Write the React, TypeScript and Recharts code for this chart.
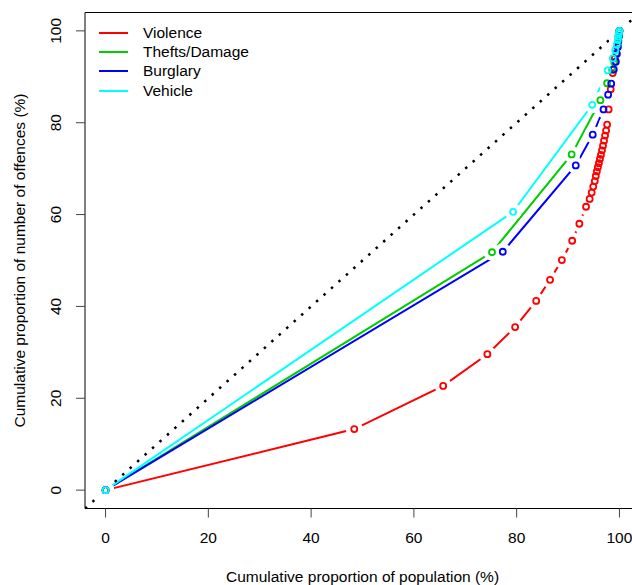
import React from 'react';
import { LineChart, Line, XAxis, YAxis, ReferenceArea, Label } from 'recharts';

const FONT = '"Liberation Sans", Arial, sans-serif';

const xTicks = [0, 20, 40, 60, 80, 100];
const yTicks = [0, 20, 40, 60, 80, 100];

// cumulative % of population / cumulative % of offences
const violence = [
  { x: 0, y: 0 }, { x: 48.4, y: 13.3 }, { x: 65.7, y: 22.7 }, { x: 74.3, y: 29.6 },
  { x: 79.7, y: 35.5 }, { x: 83.8, y: 41.2 }, { x: 86.5, y: 45.8 }, { x: 88.8, y: 50.1 },
  { x: 90.8, y: 54.3 }, { x: 92.2, y: 58.0 }, { x: 93.5, y: 61.7 }, { x: 94.2, y: 63.4 },
  { x: 94.6, y: 64.8 }, { x: 94.9, y: 66.1 }, { x: 95.2, y: 67.3 }, { x: 95.4, y: 68.4 },
  { x: 95.6, y: 69.4 }, { x: 95.8, y: 70.3 }, { x: 96.0, y: 71.2 }, { x: 96.2, y: 72.1 },
  { x: 96.4, y: 73.0 }, { x: 96.6, y: 74.0 }, { x: 96.8, y: 75.0 }, { x: 97.0, y: 76.1 },
  { x: 97.2, y: 77.2 }, { x: 97.4, y: 78.3 }, { x: 97.6, y: 79.6 }, { x: 97.9, y: 82.9 },
  { x: 98.3, y: 87.3 }, { x: 98.7, y: 90.8 }, { x: 99.1, y: 94.0 }, { x: 99.5, y: 96.8 },
  { x: 99.8, y: 98.8 }, { x: 100, y: 100 },
];
const thefts = [
  { x: 0, y: 0 }, { x: 75.2, y: 51.8 }, { x: 90.7, y: 73.1 }, { x: 96.3, y: 84.9 },
  { x: 97.6, y: 88.6 }, { x: 98.6, y: 91.5 }, { x: 99.0, y: 93.1 }, { x: 99.4, y: 95.2 },
  { x: 99.7, y: 97.2 }, { x: 99.9, y: 98.8 }, { x: 100, y: 100 },
];
const burglary = [
  { x: 0, y: 0 }, { x: 77.3, y: 51.9 }, { x: 91.5, y: 70.7 }, { x: 94.8, y: 77.4 },
  { x: 96.9, y: 82.9 }, { x: 97.8, y: 86.1 }, { x: 98.4, y: 88.5 }, { x: 98.9, y: 91.6 },
  { x: 99.3, y: 93.3 }, { x: 99.5, y: 95.0 }, { x: 99.7, y: 96.5 }, { x: 99.8, y: 97.8 },
  { x: 99.9, y: 98.9 }, { x: 100, y: 100 },
];
const vehicle = [
  { x: 0, y: 0 }, { x: 79.3, y: 60.6 }, { x: 94.7, y: 83.9 }, { x: 97.7, y: 91.4 },
  { x: 98.7, y: 94.0 }, { x: 99.2, y: 95.8 }, { x: 99.5, y: 97.0 }, { x: 99.7, y: 98.0 },
  { x: 99.8, y: 98.8 }, { x: 99.9, y: 99.5 }, { x: 100, y: 100 },
];
// line of equality, across the full plot region
const equality = [{ x: -4, y: -4 }, { x: 104, y: 104 }];

const series = [
  { name: 'Violence', color: '#FF0000', data: violence },
  { name: 'Thefts/Damage', color: '#00CD00', data: thefts },
  { name: 'Burglary', color: '#0000FF', data: burglary },
  { name: 'Vehicle', color: '#00FFFF', data: vehicle },
];

const haloDot = (props: any) => (
  <circle key={`h-${props.index}`} cx={props.cx} cy={props.cy} r={8.5} fill="#fff" stroke="none" />
);

const ringDot = (color: string) => (props: any) => (
  <circle key={`r-${props.index}`} cx={props.cx} cy={props.cy} r={3} fill="none" stroke={color} strokeWidth={1.8} />
);

const YTick = (props: any) => {
  const { x, y, payload } = props;
  return (
    <text x={x} y={y} transform={`rotate(-90 ${x} ${y})`} textAnchor="middle" fontSize={15.5} fontFamily={FONT} fill="#000">
      {payload.value}
    </text>
  );
};

const YTitle = (props: any) => {
  const vb = props.viewBox;
  const x = vb.x + 24.5;
  const y = vb.y + vb.height / 2;
  return (
    <text x={x} y={y} transform={`rotate(-90 ${x} ${y})`} textAnchor="middle" fontSize={15.5} fontFamily={FONT} fill="#000">
      Cumulative proportion of number of offences (%)
    </text>
  );
};

function LegendBox() {
  return (
    <div style={{ position: 'absolute', left: 99, top: 23, fontFamily: FONT, fontSize: 15.5, color: '#000' }}>
      {series.map((s) => (
        <div key={s.name} style={{ display: 'flex', alignItems: 'center', height: 19.4 }}>
          <svg width={30} height={4} style={{ marginRight: 14 }}>
            <line x1={0} y1={2} x2={29} y2={2} stroke={s.color} strokeWidth={2} />
          </svg>
          <span>{s.name}</span>
        </div>
      ))}
    </div>
  );
}

export default function App() {
  return (
    <div style={{ position: 'absolute', left: 0, top: 0, width: 632, height: 585, overflow: 'hidden', background: '#fff' }}>
      <LineChart width={640} height={585} margin={{ top: 12.5, right: 0, bottom: 0, left: 0 }}>
        <XAxis
          type="number"
          dataKey="x"
          domain={[-4, 104]}
          ticks={xTicks}
          allowDataOverflow
          axisLine={false}
          tickSize={9}
          tickMargin={14.5}
          tickLine={{ stroke: '#444' }}
          tick={{ fill: '#000', fontSize: 15.5, fontFamily: FONT }}
          height={76.5}
        >
          <Label value="Cumulative proportion of population (%)" position="insideBottom" offset={3}
            style={{ fill: '#000', fontSize: 15.5, fontFamily: FONT }} />
        </XAxis>
        <YAxis
          type="number"
          dataKey="y"
          domain={[-4, 104]}
          ticks={yTicks}
          allowDataOverflow
          axisLine={false}
          tickSize={9}
          tickMargin={15}
          tickLine={{ stroke: '#444' }}
          tick={<YTick />}
          width={85}
        >
          <Label content={<YTitle />} />
        </YAxis>
        <ReferenceArea x1={-4} x2={104} y1={-4} y2={104} fill="none" stroke="#000" strokeWidth={1} />
        {series.map((s) => (
          <Line key={`l-${s.name}`} data={s.data} dataKey="y" stroke={s.color} strokeWidth={2}
            dot={false} activeDot={false} isAnimationActive={false} />
        ))}
        {series.map((s) => (
          <Line key={`h-${s.name}`} data={s.data} dataKey="y" stroke="none"
            dot={haloDot} activeDot={false} isAnimationActive={false} />
        ))}
        <Line data={equality} dataKey="y" stroke="#000" strokeWidth={2.5} strokeDasharray="2.5 7.5"
          dot={false} activeDot={false} isAnimationActive={false} />
        {series.map((s) => (
          <Line key={`r-${s.name}`} data={s.data} dataKey="y" stroke="none"
            dot={ringDot(s.color)} activeDot={false} isAnimationActive={false} />
        ))}
      </LineChart>
      <LegendBox />
    </div>
  );
}
